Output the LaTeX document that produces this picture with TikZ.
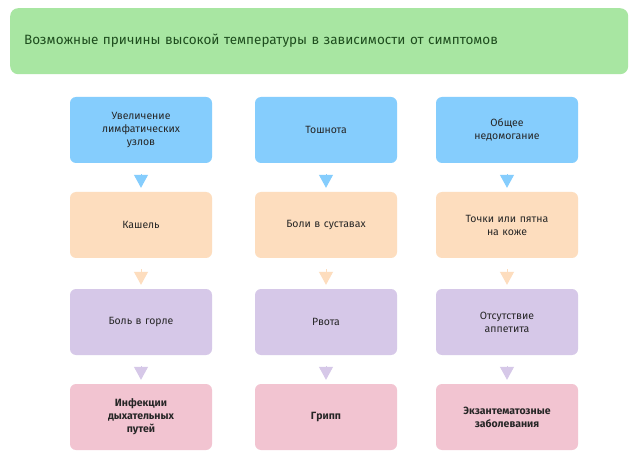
\documentclass[tikz,border=0pt]{standalone}
\usepackage{fontspec}
\setmainfont{Fira Sans}
\usetikzlibrary{arrows.meta}
\definecolor{tg}{HTML}{A8E6A2}
\definecolor{tt}{HTML}{1E4D1E}
\definecolor{cb}{HTML}{85CDFD}
\definecolor{cp}{HTML}{FDDDBE}
\definecolor{cl}{HTML}{D6C8E8}
\definecolor{ck}{HTML}{F2C4D1}
\tikzset{
 box/.style={rounded corners=6pt,minimum width=142pt,minimum height=66pt,align=center,text width=125pt,font=\fontsize{10.5}{13}\selectfont,text=black!85},
 arr/.style={-{Triangle[width=14pt,length=13pt]},line width=1pt,shorten <=11pt,shorten >=4pt}
}
\begin{document}
\begin{tikzpicture}[x=1pt,y=-1pt]
\useasboundingbox[fill=white] (0,0) rectangle (640,465);
\node[fill=tg,rounded corners=8pt,minimum width=618pt,minimum height=66pt,anchor=north west,text width=590pt,align=left,text=tt,font=\fontsize{13.5}{19}\selectfont] (t) at (10,8) {Возможные причины высокой температуры в зависимости от симптомов};
\foreach \c/\x in {a/141,b/326,c/507}{
 \node[box,fill=cb] (\c1) at (\x,130) {};
 \node[box,fill=cp] (\c2) at (\x,225) {};
 \node[box,fill=cl] (\c3) at (\x,322) {};
 \node[box,fill=ck,font=\fontsize{10.5}{13}\selectfont\bfseries] (\c4) at (\x,417) {};
 \draw[arr,cb] (\c1) -- (\c2);
 \draw[arr,cp] (\c2) -- (\c3);
 \draw[arr,cl] (\c3) -- (\c4);
}
\node[box] at (a1) {Увеличение\\лимфатических\\узлов};
\node[box] at (b1) {Тошнота};
\node[box] at (c1) {Общее\\недомогание};
\node[box] at (a2) {Кашель};
\node[box] at (b2) {Боли в суставах};
\node[box] at (c2) {Точки или пятна\\на коже};
\node[box] at (a3) {Боль в горле};
\node[box] at (b3) {Рвота};
\node[box] at (c3) {Отсутствие\\аппетита};
\node[box,font=\fontsize{10.5}{13}\selectfont\bfseries] at (a4) {Инфекции\\дыхательных\\путей};
\node[box,font=\fontsize{10.5}{13}\selectfont\bfseries] at (b4) {Грипп};
\node[box,font=\fontsize{10.5}{13}\selectfont\bfseries] at (c4) {Экзантематозные\\заболевания};
\end{tikzpicture}
\end{document}
